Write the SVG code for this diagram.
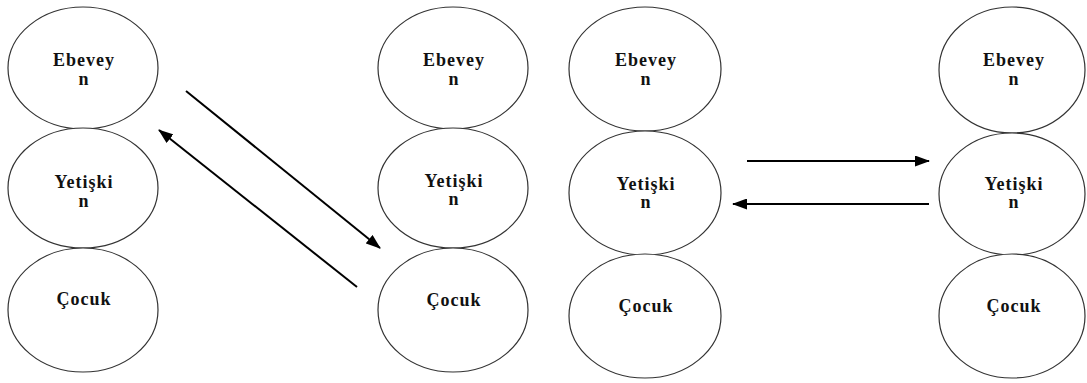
<svg xmlns="http://www.w3.org/2000/svg" width="1087" height="383" viewBox="0 0 1087 383">
<style>
.n ellipse{fill:#fff;stroke:#333;stroke-width:1.2}
.n text{font-family:'Liberation Serif','Times New Roman','DejaVu Serif',serif;font-weight:700;font-size:18px;letter-spacing:1px;text-anchor:middle;fill:#111}
.c line{stroke:#000;stroke-width:2}
</style>
<defs>
<marker id="ah" viewBox="0 0 15 11" refX="14" refY="5.5" markerWidth="15" markerHeight="11" markerUnits="userSpaceOnUse" orient="auto">
<path d="M0,0 L15,5.5 L0,11 Z" fill="#000"/>
</marker>
</defs>
<g id="c1-ebeveyn" class="n"><ellipse cx="83" cy="68" rx="75" ry="61"/><text x="84" y="66">Ebevey</text><text x="84" y="85">n</text></g>
<g id="c1-yetiskin" class="n"><ellipse cx="83" cy="188" rx="75" ry="60"/><text x="84" y="188">Yetişki</text><text x="84" y="207">n</text></g>
<g id="c1-cocuk" class="n"><ellipse cx="83" cy="310" rx="75" ry="62"/><text x="84" y="305">Çocuk</text></g>

<g id="c2-ebeveyn" class="n"><ellipse cx="453" cy="68" rx="75" ry="61"/><text x="454" y="66">Ebevey</text><text x="454" y="85">n</text></g>
<g id="c2-yetiskin" class="n"><ellipse cx="453" cy="188" rx="75" ry="60"/><text x="454" y="187">Yetişki</text><text x="454" y="205">n</text></g>
<g id="c2-cocuk" class="n"><ellipse cx="453" cy="310" rx="75" ry="62"/><text x="454" y="306">Çocuk</text></g>

<g id="c3-ebeveyn" class="n"><ellipse cx="645" cy="69" rx="76" ry="62"/><text x="646" y="66">Ebevey</text><text x="646" y="85">n</text></g>
<g id="c3-yetiskin" class="n"><ellipse cx="645" cy="193" rx="76" ry="62"/><text x="646" y="190">Yetişki</text><text x="646" y="208">n</text></g>
<g id="c3-cocuk" class="n"><ellipse cx="645" cy="316" rx="76" ry="62"/><text x="646" y="312">Çocuk</text></g>

<g id="c4-ebeveyn" class="n"><ellipse cx="1012" cy="70" rx="73" ry="63"/><text x="1014" y="66">Ebevey</text><text x="1014" y="85">n</text></g>
<g id="c4-yetiskin" class="n"><ellipse cx="1012" cy="194" rx="73" ry="61"/><text x="1014" y="190">Yetişki</text><text x="1014" y="208">n</text></g>
<g id="c4-cocuk" class="n"><ellipse cx="1012" cy="316" rx="73" ry="62"/><text x="1014" y="312">Çocuk</text></g>

<g id="connectors" class="c">
<line x1="186" y1="91" x2="380" y2="248" marker-end="url(#ah)"/>
<line x1="357" y1="287" x2="159" y2="130" marker-end="url(#ah)"/>
<line x1="747" y1="161" x2="929" y2="161" marker-end="url(#ah)"/>
<line x1="929" y1="204" x2="733" y2="204" marker-end="url(#ah)"/>
</g>
</svg>
